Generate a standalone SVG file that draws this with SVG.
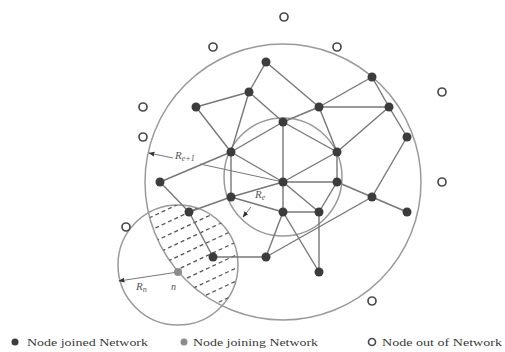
<svg xmlns="http://www.w3.org/2000/svg" width="505" height="352" viewBox="0 0 505 352">
  <style>
    .edge { stroke: #777; stroke-width: 1.4; fill: none; }
    .range { stroke: #9a9a9a; stroke-width: 1.5; fill: none; }
    .joined { fill: #3c3c3c; }
    .joining { fill: #8c8c8c; }
    .out { fill: #fff; stroke: #4a4a4a; stroke-width: 1.7; }
    .hatch { stroke: #555; stroke-width: 1.3; stroke-dasharray: 4 3; fill: none; }
    .radius { stroke: #777; stroke-width: 1; fill: none; }
    .lbl { font-family: "Liberation Serif", "Times New Roman", serif; font-style: italic; fill: #555; }
    .legend { font-family: "Liberation Serif", "Times New Roman", serif; font-size: 11px; fill: #3a3a3a; }
  </style>
  <defs>
    <clipPath id="clipOuter"><circle cx="283" cy="182" r="138"/></clipPath>
    <clipPath id="clipN"><circle cx="178" cy="265" r="60"/></clipPath>
    <marker id="tip" viewBox="0 0 10 10" refX="9" refY="5" markerWidth="6" markerHeight="6" orient="auto-start-reverse" markerUnits="userSpaceOnUse">
      <path d="M0,1 L10,5 L0,9 Z" fill="#333"/>
    </marker>
  </defs>
  <rect width="505" height="352" fill="#fff"/>

  <!-- communication ranges -->
  <g id="ranges">
    <circle class="range" cx="283" cy="182" r="138"/>
    <circle class="range" cx="283" cy="177" r="59"/>
    <circle class="range" cx="178" cy="265" r="60"/>
  </g>

  <!-- overlap of the joining node's range with the network range -->
  <g id="overlap" clip-path="url(#clipOuter)">
    <g clip-path="url(#clipN)">
      <line class="hatch" x1="130" y1="200.9" x2="250" y2="144.5"/>
      <line class="hatch" x1="130" y1="213.9" x2="250" y2="157.5"/>
      <line class="hatch" x1="130" y1="226.9" x2="250" y2="170.5"/>
      <line class="hatch" x1="130" y1="239.9" x2="250" y2="183.5"/>
      <line class="hatch" x1="130" y1="252.9" x2="250" y2="196.5"/>
      <line class="hatch" x1="130" y1="265.9" x2="250" y2="209.5"/>
      <line class="hatch" x1="130" y1="278.9" x2="250" y2="222.5"/>
      <line class="hatch" x1="130" y1="291.9" x2="250" y2="235.5"/>
      <line class="hatch" x1="130" y1="304.9" x2="250" y2="248.5"/>
      <line class="hatch" x1="130" y1="317.9" x2="250" y2="261.5"/>
      <line class="hatch" x1="130" y1="330.9" x2="250" y2="274.5"/>
      <line class="hatch" x1="130" y1="343.9" x2="250" y2="287.5"/>
      <line class="hatch" x1="130" y1="356.9" x2="250" y2="300.5"/>
      <line class="hatch" x1="130" y1="369.9" x2="250" y2="313.5"/>
    </g>
  </g>

  <!-- links between joined nodes -->
  <g id="connectors">
    <line class="edge" x1="266" y1="62" x2="249" y2="92"/>
    <line class="edge" x1="266" y1="62" x2="319" y2="107"/>
    <line class="edge" x1="249" y1="92" x2="196" y2="107"/>
    <line class="edge" x1="249" y1="92" x2="283" y2="122"/>
    <line class="edge" x1="249" y1="92" x2="231" y2="152"/>
    <line class="edge" x1="196" y1="107" x2="231" y2="152"/>
    <line class="edge" x1="372" y1="77" x2="319" y2="107"/>
    <line class="edge" x1="372" y1="77" x2="389" y2="107"/>
    <line class="edge" x1="389" y1="107" x2="407" y2="137"/>
    <line class="edge" x1="319" y1="107" x2="389" y2="107"/>
    <line class="edge" x1="319" y1="107" x2="283" y2="122"/>
    <line class="edge" x1="319" y1="107" x2="337" y2="152"/>
    <line class="edge" x1="389" y1="107" x2="337" y2="152"/>
    <line class="edge" x1="283" y1="122" x2="231" y2="152"/>
    <line class="edge" x1="283" y1="122" x2="337" y2="152"/>
    <line class="edge" x1="283" y1="122" x2="283" y2="182"/>
    <line class="edge" x1="231" y1="152" x2="283" y2="182"/>
    <line class="edge" x1="231" y1="152" x2="231" y2="197"/>
    <line class="edge" x1="231" y1="152" x2="160" y2="182"/>
    <line class="edge" x1="337" y1="152" x2="283" y2="182"/>
    <line class="edge" x1="337" y1="152" x2="337" y2="182"/>
    <line class="edge" x1="407" y1="137" x2="372" y2="197"/>
    <line class="edge" x1="160" y1="182" x2="189" y2="212"/>
    <line class="edge" x1="283" y1="182" x2="337" y2="182"/>
    <line class="edge" x1="283" y1="182" x2="231" y2="197"/>
    <line class="edge" x1="283" y1="182" x2="283" y2="212"/>
    <line class="edge" x1="283" y1="182" x2="319" y2="212"/>
    <line class="edge" x1="337" y1="182" x2="319" y2="212"/>
    <line class="edge" x1="337" y1="182" x2="372" y2="197"/>
    <line class="edge" x1="372" y1="197" x2="407" y2="212"/>
    <line class="edge" x1="372" y1="197" x2="266" y2="257"/>
    <line class="edge" x1="231" y1="197" x2="189" y2="212"/>
    <line class="edge" x1="231" y1="197" x2="283" y2="212"/>
    <line class="edge" x1="283" y1="212" x2="319" y2="212"/>
    <line class="edge" x1="283" y1="212" x2="266" y2="257"/>
    <line class="edge" x1="283" y1="212" x2="319" y2="272"/>
    <line class="edge" x1="319" y1="212" x2="319" y2="272"/>
    <line class="edge" x1="189" y1="212" x2="213" y2="257"/>
    <line class="edge" x1="213" y1="257" x2="266" y2="257"/>
    <!-- radii -->
    <line class="radius" x1="173" y1="158" x2="149" y2="153" marker-end="url(#tip)"/>
    <line class="radius" x1="283" y1="182" x2="200" y2="164"/>
    <line class="radius" x1="251" y1="207" x2="243" y2="217" marker-end="url(#tip)"/>
    <line class="radius" x1="178" y1="272" x2="119" y2="281" marker-end="url(#tip)"/>
  </g>

  <!-- radius labels -->
  <g id="labels">
    <text class="lbl" x="175" y="159" font-size="11">R<tspan font-size="8" dy="2">e+1</tspan></text>
    <text class="lbl" x="255" y="198" font-size="11">R<tspan font-size="8" dy="2">e</tspan></text>
    <text class="lbl" x="136" y="290" font-size="11">R<tspan font-size="8" dy="2">n</tspan></text>
    <text class="lbl" x="171" y="290" font-size="10">n</text>
  </g>

  <!-- nodes joined to the network -->
  <g id="joined">
    <circle id="nA" class="joined" cx="266" cy="62" r="4.5"/>
    <circle id="nB" class="joined" cx="249" cy="92" r="4.5"/>
    <circle id="nC" class="joined" cx="196" cy="107" r="4.5"/>
    <circle id="nD" class="joined" cx="372" cy="77" r="4.5"/>
    <circle id="nE" class="joined" cx="319" cy="107" r="4.5"/>
    <circle id="nF" class="joined" cx="389" cy="107" r="4.5"/>
    <circle id="nG" class="joined" cx="283" cy="122" r="4.5"/>
    <circle id="nH" class="joined" cx="231" cy="152" r="4.5"/>
    <circle id="nI" class="joined" cx="337" cy="152" r="4.5"/>
    <circle id="nJ" class="joined" cx="407" cy="137" r="4.5"/>
    <circle id="nK" class="joined" cx="160" cy="182" r="4.5"/>
    <circle id="nL" class="joined" cx="283" cy="182" r="4.5"/>
    <circle id="nM" class="joined" cx="337" cy="182" r="4.5"/>
    <circle id="nN" class="joined" cx="372" cy="197" r="4.5"/>
    <circle id="nO" class="joined" cx="407" cy="212" r="4.5"/>
    <circle id="nP" class="joined" cx="231" cy="197" r="4.5"/>
    <circle id="nQ" class="joined" cx="189" cy="212" r="4.5"/>
    <circle id="nR" class="joined" cx="283" cy="212" r="4.5"/>
    <circle id="nS" class="joined" cx="319" cy="212" r="4.5"/>
    <circle id="nT" class="joined" cx="213" cy="257" r="4.5"/>
    <circle id="nU" class="joined" cx="266" cy="257" r="4.5"/>
    <circle id="nV" class="joined" cx="319" cy="272" r="4.5"/>
  </g>

  <!-- node joining the network -->
  <g id="joining">
    <circle id="nodeN" class="joining" cx="178" cy="272" r="4"/>
  </g>

  <!-- nodes out of the network -->
  <g id="outside">
    <circle id="o1" class="out" cx="284" cy="17" r="4"/>
    <circle id="o2" class="out" cx="213" cy="47" r="4"/>
    <circle id="o3" class="out" cx="337" cy="47" r="4"/>
    <circle id="o4" class="out" cx="143" cy="107" r="4"/>
    <circle id="o5" class="out" cx="143" cy="137" r="4"/>
    <circle id="o6" class="out" cx="442" cy="92" r="4"/>
    <circle id="o7" class="out" cx="442" cy="182" r="4"/>
    <circle id="o8" class="out" cx="126" cy="227" r="4"/>
    <circle id="o9" class="out" cx="372" cy="301" r="4"/>
  </g>

  <!-- legend -->
  <g id="legend">
    <circle class="joined" cx="15" cy="342" r="3.5"/>
    <text class="legend" x="27" y="346" textLength="121" lengthAdjust="spacingAndGlyphs">Node joined Network</text>
    <circle class="joining" cx="184" cy="342" r="3.5"/>
    <text class="legend" x="193" y="346" textLength="125" lengthAdjust="spacingAndGlyphs">Node joining Network</text>
    <circle class="out" cx="372" cy="342" r="3.5"/>
    <text class="legend" x="382" y="346" textLength="120" lengthAdjust="spacingAndGlyphs">Node out of Network</text>
  </g>
</svg>
